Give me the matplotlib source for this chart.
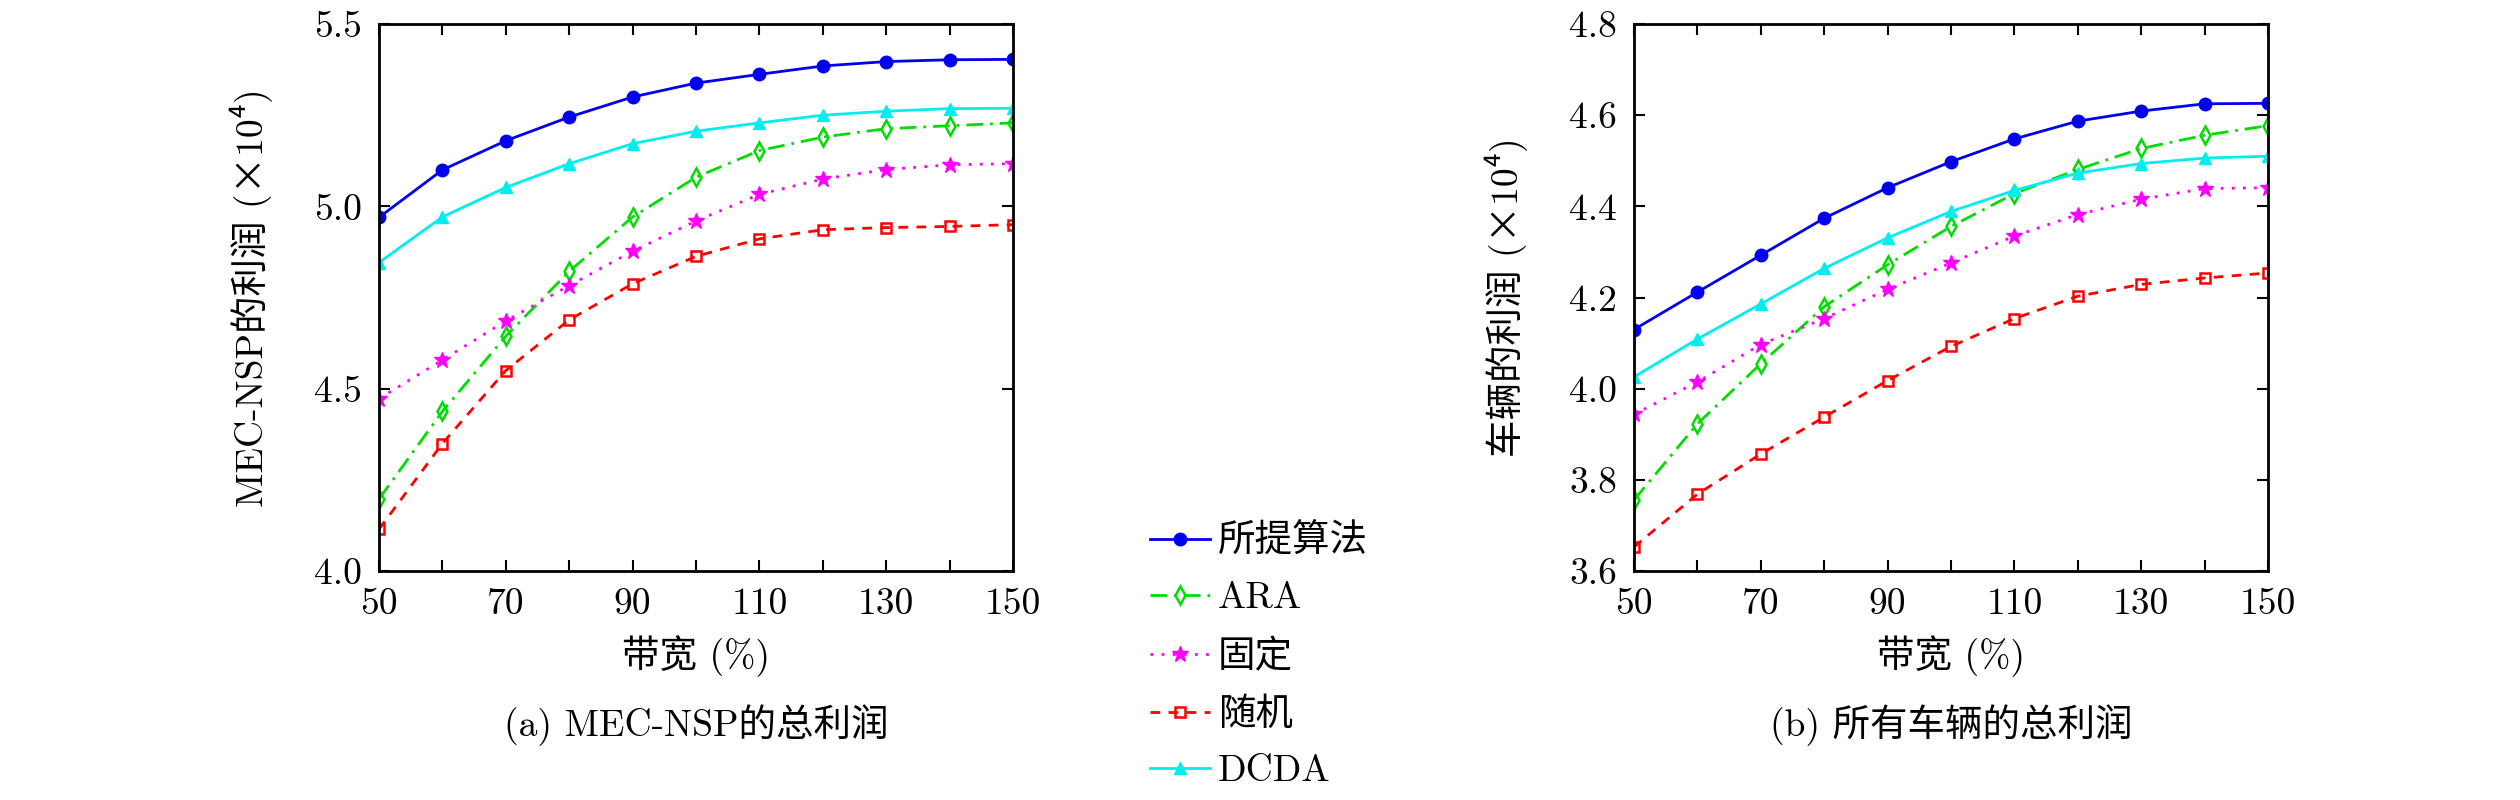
import matplotlib
matplotlib.use('Agg')
import matplotlib.pyplot as plt

plt.rcParams['font.family'] = ['cmr10', 'Noto Sans CJK SC', 'DejaVu Sans']
plt.rcParams['mathtext.fontset'] = 'cm'
plt.rcParams['axes.unicode_minus'] = False

# Données (x en %, y en x10^4)
bande = [50, 60, 70, 80, 90, 100, 110, 120, 130, 140, 150]
x_etiquettes = ['50', '', '70', '', '90', '', '110', '', '130', '', '150']
noms = ['所提算法', 'ARA', '固定', '随机', 'DCDA']

nsp_propose = [4.97, 5.10, 5.18, 5.245, 5.30, 5.338, 5.362, 5.385, 5.397, 5.402, 5.403]
nsp_ara = [4.198, 4.438, 4.644, 4.822, 4.971, 5.080, 5.153, 5.190, 5.213, 5.221, 5.229]
nsp_fixe = [4.473, 4.579, 4.686, 4.783, 4.877, 4.960, 5.033, 5.075, 5.101, 5.114, 5.117]
nsp_alea = [4.115, 4.350, 4.550, 4.689, 4.788, 4.863, 4.911, 4.936, 4.942, 4.945, 4.950]
nsp_dcda = [4.846, 4.971, 5.052, 5.117, 5.172, 5.206, 5.229, 5.250, 5.261, 5.268, 5.269]

veh_propose = [4.130, 4.212, 4.293, 4.374, 4.441, 4.498, 4.548, 4.587, 4.609, 4.625, 4.626]
veh_ara = [3.756, 3.923, 4.055, 4.180, 4.272, 4.356, 4.428, 4.481, 4.527, 4.556, 4.577]
veh_fixe = [3.944, 4.015, 4.097, 4.154, 4.218, 4.276, 4.335, 4.382, 4.416, 4.439, 4.441]
veh_alea = [3.653, 3.769, 3.857, 3.938, 4.018, 4.093, 4.154, 4.203, 4.229, 4.243, 4.254]
veh_dcda = [4.026, 4.109, 4.186, 4.264, 4.331, 4.389, 4.435, 4.473, 4.494, 4.506, 4.510]

y_gauche = [4.0, 4.5, 5.0, 5.5]
y_droite = [3.6, 3.8, 4.0, 4.2, 4.4, 4.6, 4.8]

# Styles : couleur, marqueur, style de ligne, remplissage
styles = [
    dict(color='#0000ee', marker='o', linestyle='-', markersize=9),
    dict(color='#00dd00', marker='d', linestyle=(0, (6, 2.5, 1, 2.5)), markersize=9,
         markerfacecolor='none', markeredgewidth=1.8),
    dict(color='#ff00ff', marker='*', linestyle=(0, (1, 3)), markersize=12),
    dict(color='#ff0000', marker='s', linestyle=(0, (3.5, 3)), markersize=7,
         markerfacecolor='none', markeredgewidth=1.8),
    dict(color='#00eeee', marker='^', linestyle='-', markersize=9),
]

FS = 27

fig = plt.figure(figsize=(25.2, 8), dpi=100)
ax1 = fig.add_axes([0.1504, 0.286, 0.2516, 0.684])
ax2 = fig.add_axes([0.6484, 0.286, 0.2516, 0.684])


def tracer(ax, series, yticks, ylabel):
    for serie, nom, st in zip(series, noms, styles):
        ax.plot(bande, serie, label=nom, linewidth=2, **st)
    ax.set_xlim(bande[0], bande[-1])
    ax.set_ylim(yticks[0], yticks[-1])
    ax.set_xticks(bande)
    ax.set_xticklabels(x_etiquettes)
    ax.set_yticks(yticks)
    ax.set_yticklabels(['%.1f' % v for v in yticks])
    ax.tick_params(direction='in', top=True, right=True, length=8, width=1.5,
                   labelsize=FS, pad=12)
    for s in ax.spines.values():
        s.set_linewidth(2)
    ax.set_xlabel('带宽 (%)', fontsize=FS, labelpad=10)
    ax.set_ylabel(ylabel, fontsize=FS, labelpad=30)


tracer(ax1, [nsp_propose, nsp_ara, nsp_fixe, nsp_alea, nsp_dcda], y_gauche,
       'MEC-NSP的利润 (×10⁴)')
tracer(ax2, [veh_propose, veh_ara, veh_fixe, veh_alea, veh_dcda], y_droite,
       '车辆的利润 (×10⁴)')

fig.text(0.2762, 0.094, '(a) MEC-NSP的总利润', fontsize=FS, ha='center', va='center')
fig.text(0.7742, 0.094, '(b) 所有车辆的总利润', fontsize=FS, ha='center', va='center')

h, l = ax1.get_legend_handles_labels()
fig.legend(h, l, loc='center left', bbox_to_anchor=(0.443, 0.18), frameon=False,
           fontsize=FS, handlelength=1.6, handletextpad=0.2, labelspacing=0.62)

fig.savefig('out.png', dpi=100)
